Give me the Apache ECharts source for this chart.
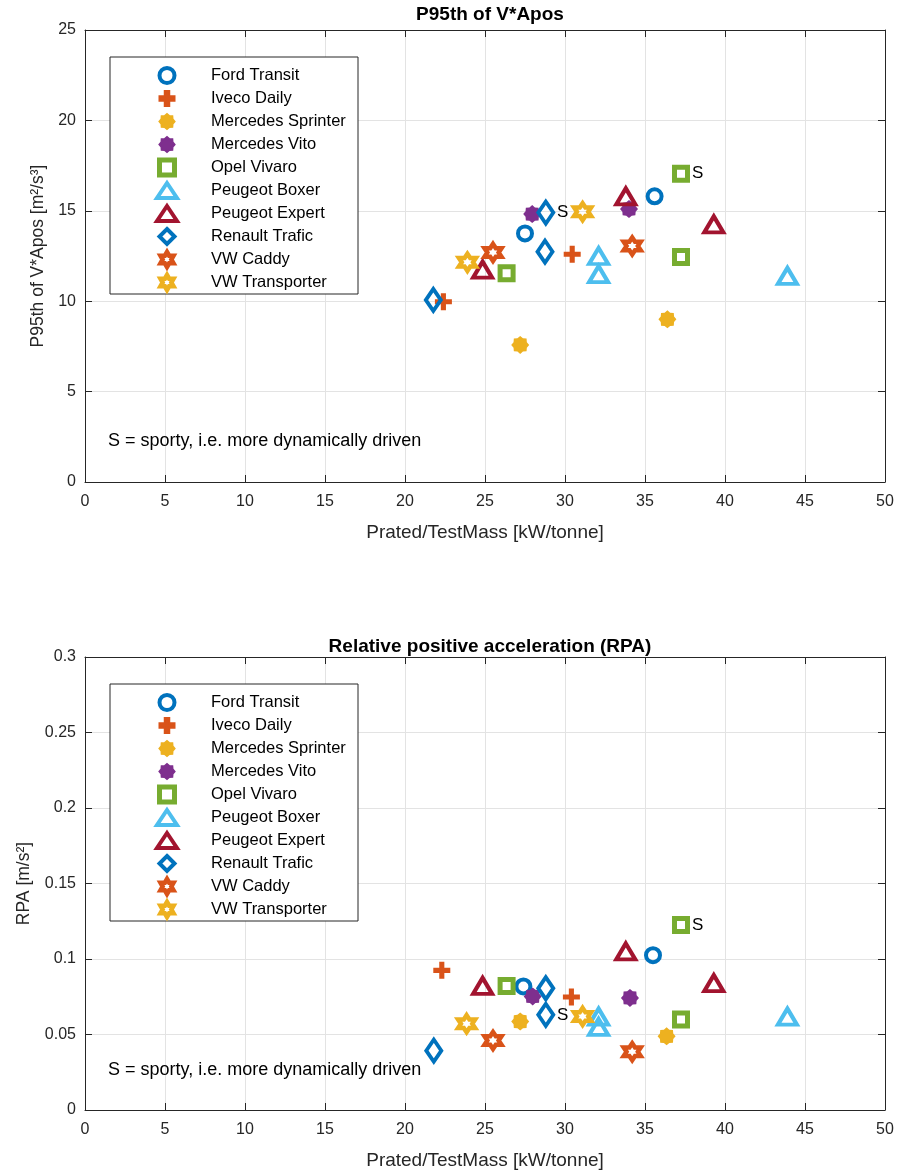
<!DOCTYPE html>
<html><head><meta charset="utf-8">
<script src="https://cdn.jsdelivr.net/npm/echarts@6/dist/echarts.min.js"></script>
<style>html,body{margin:0;padding:0;background:#fff}#c{width:905px;height:1176px}</style>
</head><body><div id="c"></div><script>
// ---------- DATA ----------
const vehicleNames = ['Ford Transit','Iveco Daily','Mercedes Sprinter','Mercedes Vito','Opel Vivaro',
  'Peugeot Boxer','Peugeot Expert','Renault Trafic','VW Caddy','VW Transporter'];
const xTicks = [0,5,10,15,20,25,30,35,40,45,50];
const p95Ticks = [0,5,10,15,20,25];
const rpaTicks = [0,0.05,0.1,0.15,0.2,0.25,0.3];

// Chart 1: P95th of V*Apos  [x = Prated/TestMass, y = P95]
const fordTransitP95     = [[27.5,13.75],[35.6,15.8]];
const ivecoDailyP95      = [[22.4,9.97],[30.45,12.6]];
const mercSprinterP95    = [[27.2,7.58],[36.4,9.0]];
const mercVitoP95        = [[27.95,14.82],[34.0,15.1]];
const opelVivaroP95      = [[26.35,11.55],[37.25,17.05],[37.25,12.45]];
const peugeotBoxerP95    = [[32.1,12.5],[32.1,11.5],[43.9,11.4]];
const peugeotExpertP95   = [[24.85,11.75],[33.8,15.8],[39.3,14.25]];
const renaultTraficP95   = [[21.77,10.07],[28.8,14.9],[28.75,12.74]];
const vwCaddyP95         = [[25.5,12.7],[34.2,13.05]];
const vwTransporterP95   = [[23.9,12.15],[31.1,14.95]];

// Chart 2: RPA
const fordTransitRPA     = [[27.4,0.0818],[35.5,0.1025]];
const ivecoDailyRPA      = [[22.3,0.0925],[30.4,0.0748]];
const mercSprinterRPA    = [[27.2,0.0586],[36.35,0.0488]];
const mercVitoRPA        = [[27.98,0.0752],[34.06,0.0742]];
const opelVivaroRPA      = [[26.35,0.0822],[37.25,0.1225],[37.25,0.0600]];
const peugeotBoxerRPA    = [[32.1,0.0618],[32.1,0.0550],[43.9,0.0618]];
const peugeotExpertRPA   = [[24.85,0.0822],[33.8,0.1050],[39.3,0.0840]];
const renaultTraficRPA   = [[21.8,0.0393],[28.8,0.0806],[28.8,0.0630]];
const vwCaddyRPA         = [[25.5,0.0460],[34.2,0.0386]];
const vwTransporterRPA   = [[23.85,0.0572],[31.1,0.0620]];

// sporty ("S") points: [vehicle name, point index]
const sportyP95 = [['Opel Vivaro',1],['Renault Trafic',1]];
const sportyRPA = [['Opel Vivaro',1],['Renault Trafic',2]];

const p95Data = [fordTransitP95,ivecoDailyP95,mercSprinterP95,mercVitoP95,opelVivaroP95,
  peugeotBoxerP95,peugeotExpertP95,renaultTraficP95,vwCaddyP95,vwTransporterP95];
const rpaData = [fordTransitRPA,ivecoDailyRPA,mercSprinterRPA,mercVitoRPA,opelVivaroRPA,
  peugeotBoxerRPA,peugeotExpertRPA,renaultTraficRPA,vwCaddyRPA,vwTransporterRPA];

// ---------- STYLE ----------
const FONT = '"Liberation Sans", Arial, Helvetica, sans-serif';
const plusPath = 'path://M-1,-0.3H-0.3V-1H0.3V-0.3H1V0.3H0.3V1H-0.3V0.3H-1Z';
const hexPath = 'path://M0,-1L0.2887,-0.5L0.866,-0.5L0.577,0L0.866,0.5L0.2887,0.5L0,1L-0.2887,0.5L-0.866,0.5L-0.577,0L-0.866,-0.5L-0.2887,-0.5Z';
const gearPath = 'path://M1,0L0.739,0.306L0.7071,0.7071L0.306,0.739L0,1L-0.306,0.739L-0.7071,0.7071L-0.739,0.306L-1,0L-0.739,-0.306L-0.7071,-0.7071L-0.306,-0.739L0,-1L0.306,-0.739L0.7071,-0.7071L0.739,-0.306Z';
const diamondPath = 'path://M0,-1L1,0L0,1L-1,0Z';
const squarePath = 'path://M-1,-1H1V1H-1Z';
const hollow = (c,w)=>({color:'rgba(255,255,255,0)', borderColor:c, borderWidth:w, opacity:1});
const filled = c=>({color:c, borderWidth:0, opacity:1});
const styles = [
  {symbol:'circle', size:14, item:hollow('#0072BD',4), leg:hollow('#0072BD',4)},
  {symbol:plusPath, size:17, item:filled('#D95319'), leg:{color:'#D95319', borderColor:'#D95319', borderWidth:2}},
  {symbol:gearPath, size:18, item:filled('#EDB120'), leg:{color:'#EDB120', borderColor:'#EDB120', borderWidth:2}},
  {symbol:gearPath, size:18, item:filled('#7E2F8E'), leg:{color:'#7E2F8E', borderColor:'#7E2F8E', borderWidth:2}},
  {symbol:squarePath, size:13, item:hollow('#77AC30',5), leg:hollow('#77AC30',5)},
  {symbol:'triangle', size:[19,16], item:hollow('#4DBEEE',4), leg:hollow('#4DBEEE',4)},
  {symbol:'triangle', size:[19,16], item:hollow('#A2142F',4), leg:hollow('#A2142F',4)},
  {symbol:diamondPath, size:[15,22], item:hollow('#0072BD',4), leg:hollow('#0072BD',4)},
  {symbol:hexPath, size:17, item:hollow('#D95319',4.5), leg:hollow('#D95319',4.5)},
  {symbol:hexPath, size:17, item:hollow('#EDB120',4.5), leg:hollow('#EDB120',4.5)}
];

const grids = [
  {left:85, right:20, top:30, height:452},
  {left:85, right:20, top:657, height:453}
];
const axisCol = '#262626';
function xAx(gi, pos){
  return {type:'value', gridIndex:gi, position:pos, min:0, max:50, interval:5,
    axisLine:{show:true, onZero:false, lineStyle:{color:axisCol,width:1}},
    axisTick:{show:true, inside:true, length:7, lineStyle:{color:axisCol}},
    axisLabel:{show:pos==='bottom', margin:12, color:'#262626', fontSize:16, fontFamily:FONT},
    splitLine:{show:pos==='bottom', lineStyle:{color:'#e3e3e3'}},
    name: pos==='bottom' ? 'Prated/TestMass [kW/tonne]' : '', nameLocation:'middle', nameGap:41,
    nameTextStyle:{color:'#262626', fontSize:19, fontFamily:FONT}};
}
function yAx(gi, pos, max, interval, name, gap, fmt){
  return {type:'value', gridIndex:gi, position:pos, min:0, max:max, interval:interval,
    axisLine:{show:true, onZero:false, lineStyle:{color:axisCol,width:1}},
    axisTick:{show:true, inside:true, length:7, lineStyle:{color:axisCol}},
    axisLabel:{show:pos==='left', margin:9, color:'#262626', fontSize:16, fontFamily:FONT, formatter:fmt},
    splitLine:{show:pos==='left', lineStyle:{color:'#e3e3e3'}},
    name: pos==='left' ? name : '', nameLocation:'middle', nameGap:gap, nameRotate:90,
    nameTextStyle:{color:'#262626', fontSize:17.5, fontFamily:FONT}};
}

const series = [];
function addSeries(dataSets, gi, sporty){
  dataSets.forEach((pts, k)=>{
    const name = vehicleNames[k];
    const st = styles[k];
    const sIdx = sporty.filter(s=>s[0]===name).map(s=>s[1]);
    series.push({
      type:'scatter', name, xAxisIndex:gi*2, yAxisIndex:gi*2,
      symbol:st.symbol, symbolSize:st.size, itemStyle:st.item, z:2+k,
      label:{show:false, formatter:'S', position:'right', distance:2, color:'#000', fontSize:17, fontFamily:FONT},
      emphasis:{disabled:true},
      data: pts.map((p,i)=> sIdx.includes(i) ? {value:p, label:{show:true}} : p)
    });
  });
}
addSeries(p95Data, 0, sportyP95);
addSeries(rpaData, 1, sportyRPA);

function legendAt(top){
  return {left:110, top:top, orient:'vertical', itemGap:0, itemWidth:20, itemHeight:15,
    padding:[7,11,0,45], borderColor:'#262626', borderWidth:1, backgroundColor:'#fff',
    selectedMode:false, z:20, symbolKeepAspect:true,
    textStyle:{fontSize:16.5, color:'#000', fontFamily:FONT, padding:[0,0,0,29], width:136, height:23, lineHeight:23},
    data: vehicleNames.map((n,k)=>({name:n, itemStyle:styles[k].leg}))};
}

const option = {
  animation:false,
  backgroundColor:'#fff',
  title:[
    {text:'P95th of V*Apos', left:485, top:0, textAlign:'center', textStyle:{fontSize:19, fontWeight:'bold', color:'#000', fontFamily:FONT}},
    {text:'Relative positive acceleration (RPA)', left:485, top:632, textAlign:'center', textStyle:{fontSize:19, fontWeight:'bold', color:'#000', fontFamily:FONT}},
    {text:'S = sporty, i.e. more dynamically driven', left:103, top:427, textStyle:{fontSize:18, fontWeight:'normal', color:'#000', fontFamily:FONT}},
    {text:'S = sporty, i.e. more dynamically driven', left:103, top:1056, textStyle:{fontSize:18, fontWeight:'normal', color:'#000', fontFamily:FONT}}
  ],
  grid:grids,
  legend:[legendAt(57), legendAt(684)],
  xAxis:[xAx(0,'bottom'), xAx(0,'top'), xAx(1,'bottom'), xAx(1,'top')],
  yAxis:[
    yAx(0,'left',25,5,'P95th of V*Apos [m\u00B2/s\u00B3]',30),
    yAx(0,'right',25,5,'',0),
    yAx(1,'left',0.3,0.05,'RPA [m/s\u00B2]',52, v=>String(+v.toFixed(2))),
    yAx(1,'right',0.3,0.05,'',0)
  ],
  series:series
};
const chart = echarts.init(document.getElementById('c'), null, {renderer:'canvas'});
chart.setOption(option);
</script></body></html>
